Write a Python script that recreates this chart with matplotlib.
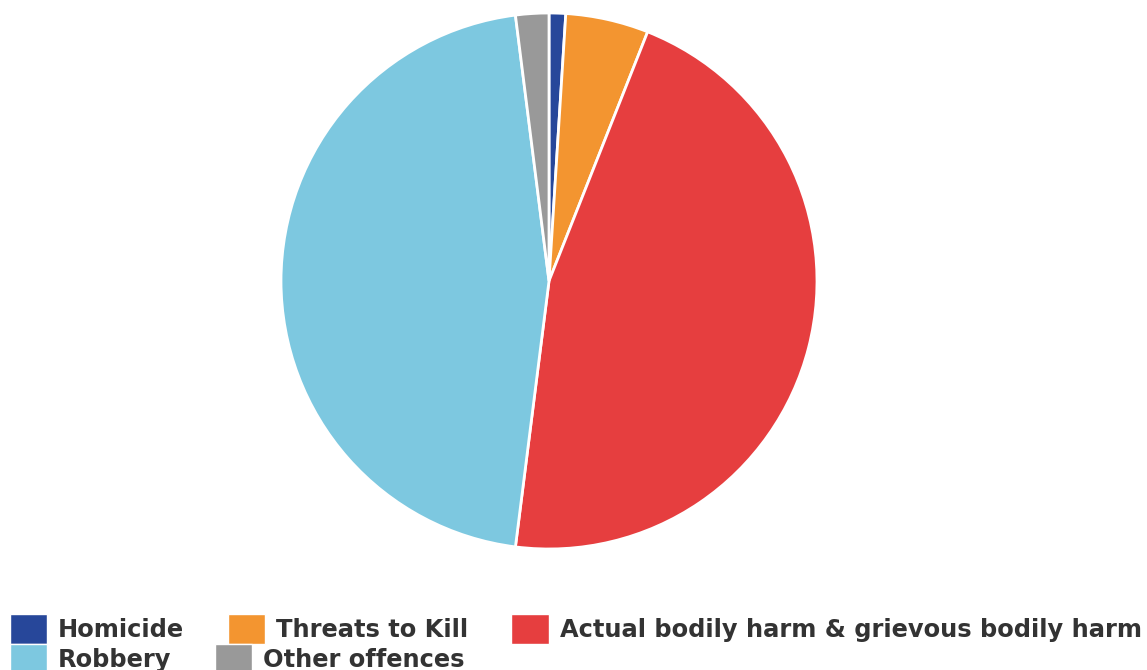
import matplotlib.pyplot as plt
from matplotlib.patches import Patch

# offence categories and their share of the total (%)
labels = ['Homicide', 'Threats to Kill', 'Actual bodily harm & grievous bodily harm',
          'Robbery', 'Other offences']
shares = [1, 5, 46, 46, 2]
colors = ['#27479a', '#f39530', '#e63e3f', '#7dc8e0', '#999999']

W, H = 1147, 670
fig = plt.figure(figsize=(W / 100, H / 100), dpi=100)

# pie axes: centre (549, 281) px from top-left, radius 268 px
r = 268
cx, cy = 549, 281
ax = fig.add_axes([(cx - r) / W, (H - cy - r) / H, 2 * r / W, 2 * r / H])
ax.pie(shares, colors=colors, startangle=90, counterclock=False,
       wedgeprops=dict(edgecolor='white', linewidth=2), radius=1)
ax.set_xlim(-1, 1)
ax.set_ylim(-1, 1)
ax.set_aspect('equal')
ax.axis('off')

# legend laid out as two flowing rows
fs = 17.35
handles = [Patch(facecolor=c, edgecolor='white', linewidth=1) for c in colors]
row_opts = dict(loc='center left', frameon=False, borderpad=0,
                borderaxespad=0, handlelength=1.55, handleheight=1.5,
                handletextpad=0.45, columnspacing=1.8,
                prop=dict(weight='bold', size=fs, family='DejaVu Sans'))
leg1 = fig.legend(handles[:3], labels[:3], ncol=3,
                  bbox_to_anchor=(10 / W, (H - 629) / H), **row_opts)
leg2 = fig.legend(handles[3:], labels[3:], ncol=2,
                  bbox_to_anchor=(10 / W, (H - 659) / H), **row_opts)
for leg in (leg1, leg2):
    for t in leg.get_texts():
        t.set_color('#333333')

fig.savefig('out.png', dpi=100)
